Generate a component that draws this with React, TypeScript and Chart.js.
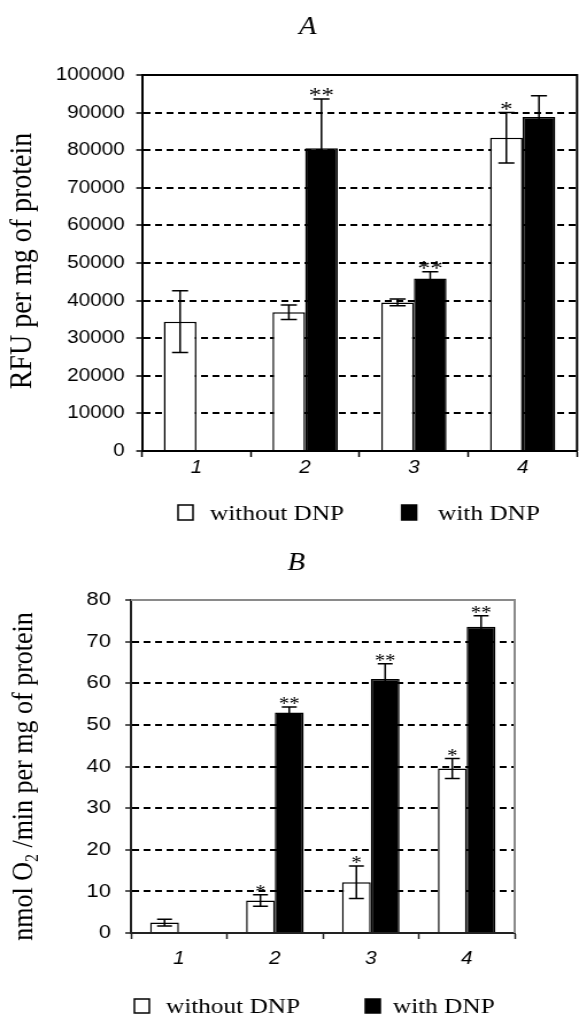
import React, { useEffect, useRef } from "react";
import { Chart, registerables } from "chart.js";

Chart.register(...registerables);

// ---------- data ----------
const categories = ["1", "2", "3", "4"];
const seriesLabels = ["without DNP", "with DNP"];

// Panel A: RFU per mg of protein
const rfuWithout: (number | null)[] = [34400, 36900, 39500, 83300];
const rfuWithoutErr: (number | null)[] = [8200, 1950, 900, 6700];
const rfuWith: (number | null)[] = [null, 80500, 45900, 88800];
const rfuWithErr: (number | null)[] = [null, 13100, 1800, 5700];
const rfuWithoutMarks = ["", "", "", "*"];
const rfuWithMarks = ["", "**", "**", ""];
const rfuMax = 100000;
const rfuStep = 10000;

// Panel B: nmol O2/min per mg of protein
const o2Without: (number | null)[] = [2.5, 7.8, 12.2, 39.5];
const o2WithoutErr: (number | null)[] = [0.8, 1.4, 3.9, 2.4];
const o2With: (number | null)[] = [null, 53, 61, 73.6];
const o2WithErr: (number | null)[] = [null, 1.3, 3.7, 2.6];
const o2WithoutMarks = ["", "*", "*", "*"];
const o2WithMarks = ["", "**", "**", "**"];
const o2Max = 80;
const o2Step = 10;

// ---------- layout / style ----------
const SANS = '"Liberation Sans", Arial, sans-serif';
const SERIF = '"Liberation Serif", "Times New Roman", serif';
const CANVAS_W = 504;
const STRETCH = 579 / CANVAS_W;

type Panel = {
  top: number;
  height: number;
  title: string;
  titleX: number;
  titleY: number;
  yTitle: { parts: { t: string; sub?: boolean }[]; x: number; y: number; size: number };
  values: (number | null)[][];
  errors: (number | null)[][];
  marks: string[][];
  max: number;
  step: number;
  area: { left: number; right: number; top: number; bottom: number };
  xScaleH: number;
  xPad: number;
  yPad: number;
  yFont: number;
  starSize: number;
  starOffset: number;
  cap: number;
  frameColor: string;
  axisColor: string;
  legend: { boxX: number; textX: number }[];
  legendBoxY: number;
  legendBoxH: number;
  legendBaseline: number;
};

const panelA: Panel = {
  top: 0,
  height: 535,
  title: "A",
  titleX: 268,
  titleY: 34,
  yTitle: { parts: [{ t: "RFU per mg of protein" }], x: 20, y: 261, size: 28 },
  values: [rfuWithout, rfuWith],
  errors: [rfuWithoutErr, rfuWithErr],
  marks: [rfuWithoutMarks, rfuWithMarks],
  max: rfuMax,
  step: rfuStep,
  area: { left: 123.6, right: 502.3, top: 75, bottom: 451 },
  xScaleH: 30,
  xPad: 0,
  yPad: 10,
  yFont: 18,
  starSize: 22,
  starOffset: 3,
  cap: 7,
  frameColor: "#000",
  axisColor: "#000",
  legend: [
    { boxX: 155, textX: 182.8 },
    { boxX: 349.6, textX: 381.3 },
  ],
  legendBoxY: 505,
  legendBoxH: 15,
  legendBaseline: 520,
};

const panelB: Panel = {
  top: 535,
  height: 481,
  title: "B",
  titleX: 258,
  titleY: 35,
  yTitle: {
    parts: [{ t: "nmol O" }, { t: "2", sub: true }, { t: " /min per mg of protein" }],
    x: 21,
    y: 241.5,
    size: 26,
  },
  values: [o2Without, o2With],
  errors: [o2WithoutErr, o2WithErr],
  marks: [o2WithoutMarks, o2WithMarks],
  max: o2Max,
  step: o2Step,
  area: { left: 114, right: 448, top: 65, bottom: 398 },
  xScaleH: 40,
  xPad: 9,
  yPad: 12.5,
  yFont: 19,
  starSize: 18,
  starOffset: 3,
  cap: 6.5,
  frameColor: "#8a8a8a",
  axisColor: "#222",
  legend: [
    { boxX: 117, textX: 144.5 },
    { boxX: 318, textX: 342 },
  ],
  legendBoxY: 464,
  legendBoxH: 14,
  legendBaseline: 478,
};

function buildConfig(p: Panel): any {
  const decor = {
    id: "decor",
    afterDatasetsDraw(chart: any) {
      const ctx = chart.ctx;
      const ys = chart.scales.y;
      chart.data.datasets.forEach((ds: any, di: number) => {
        const meta = chart.getDatasetMeta(di);
        meta.data.forEach((el: any, i: number) => {
          const v = ds.data[i];
          if (v == null) return;
          const e = p.errors[di][i] ?? 0;
          const yt = ys.getPixelForValue(v + e);
          const yb = ys.getPixelForValue(v - e);
          ctx.save();
          ctx.strokeStyle = "#000";
          ctx.lineWidth = 1.5;
          ctx.beginPath();
          ctx.moveTo(el.x, yt);
          ctx.lineTo(el.x, yb);
          ctx.moveTo(el.x - p.cap, yt);
          ctx.lineTo(el.x + p.cap, yt);
          ctx.moveTo(el.x - p.cap, yb);
          ctx.lineTo(el.x + p.cap, yb);
          ctx.stroke();
          const m = p.marks[di][i];
          if (m) {
            ctx.fillStyle = "#000";
            ctx.font = `${p.starSize}px ${SERIF}`;
            ctx.textAlign = "center";
            ctx.textBaseline = "alphabetic";
            ctx.fillText(m, el.x, yt + p.starOffset);
          }
          ctx.restore();
        });
      });
    },
    afterDraw(chart: any) {
      const ctx = chart.ctx;
      const a = chart.chartArea;
      ctx.save();
      // frame top & right
      ctx.strokeStyle = p.frameColor;
      ctx.lineWidth = 2;
      ctx.beginPath();
      ctx.moveTo(a.left, a.top);
      ctx.lineTo(a.right, a.top);
      ctx.lineTo(a.right, a.bottom);
      ctx.stroke();

      // panel title
      ctx.fillStyle = "#000";
      ctx.font = `italic 25px ${SERIF}`;
      ctx.textAlign = "center";
      ctx.textBaseline = "alphabetic";
      ctx.fillText(p.title, p.titleX, p.titleY);

      // y axis title (rotated)
      ctx.save();
      ctx.translate(p.yTitle.x, p.yTitle.y);
      ctx.rotate(-Math.PI / 2);
      ctx.textBaseline = "middle";
      ctx.textAlign = "left";
      const big = `${p.yTitle.size}px ${SERIF}`;
      const small = `${Math.round(p.yTitle.size * 0.6)}px ${SERIF}`;
      let total = 0;
      p.yTitle.parts.forEach((pt) => {
        ctx.font = pt.sub ? small : big;
        total += ctx.measureText(pt.t).width;
      });
      let cx = -total / 2;
      p.yTitle.parts.forEach((pt) => {
        ctx.font = pt.sub ? small : big;
        ctx.fillText(pt.t, cx, pt.sub ? p.yTitle.size * 0.3 : 0);
        cx += ctx.measureText(pt.t).width;
      });
      ctx.restore();

      // legend
      ctx.font = `22px ${SERIF}`;
      ctx.textAlign = "left";
      ctx.textBaseline = "alphabetic";
      chart.data.datasets.forEach((ds: any, i: number) => {
        const it = p.legend[i];
        ctx.fillStyle = ds.backgroundColor;
        ctx.fillRect(it.boxX, p.legendBoxY, 13, p.legendBoxH);
        ctx.strokeStyle = "#000";
        ctx.lineWidth = 1.5;
        ctx.strokeRect(it.boxX, p.legendBoxY, 13, p.legendBoxH);
        ctx.fillStyle = "#000";
        ctx.fillText(ds.label, it.textX, p.legendBaseline);
      });
      ctx.restore();
    },
  };

  return {
    type: "bar",
    data: {
      labels: categories,
      datasets: [
        {
          label: seriesLabels[0],
          data: p.values[0],
          backgroundColor: "#ffffff",
          borderColor: "#000000",
          borderWidth: 1.5,
          categoryPercentage: 0.6,
          barPercentage: 1.0,
        },
        {
          label: seriesLabels[1],
          data: p.values[1],
          backgroundColor: "#000000",
          borderColor: "#000000",
          borderWidth: 1.5,
          categoryPercentage: 0.6,
          barPercentage: 1.0,
        },
      ],
    },
    options: {
      responsive: false,
      animation: false,
      devicePixelRatio: 1,
      layout: {
        padding: {
          left: 0,
          right: CANVAS_W - p.area.right,
          top: p.area.top,
          bottom: p.height - p.area.bottom - p.xScaleH,
        },
      },
      plugins: {
        legend: { display: false },
        title: { display: false },
        tooltip: { enabled: false },
      },
      scales: {
        x: {
          afterFit: (s: any) => {
            s.height = p.xScaleH;
          },
          grid: {
            drawOnChartArea: false,
            drawTicks: true,
            tickLength: 6,
            tickColor: p.axisColor,
            tickWidth: 1.5,
            offset: true,
          },
          border: { display: true, color: p.axisColor, width: 2 },
          ticks: {
            color: "#000",
            padding: p.xPad,
            font: { family: SANS, size: 18, style: "italic" },
          },
        },
        y: {
          min: 0,
          max: p.max,
          afterFit: (s: any) => {
            s.width = p.area.left;
          },
          ticks: {
            stepSize: p.step,
            color: "#000",
            padding: p.yPad,
            font: { family: SANS, size: p.yFont },
            callback: (v: any) => String(v),
          },
          grid: {
            color: (c: any) =>
              c.tick && (c.tick.value === p.max || c.tick.value === 0) ? "rgba(0,0,0,0)" : "#000",
            lineWidth: 2,
            tickLength: 5,
            tickColor: p.axisColor,
            tickWidth: 1.5,
          },
          border: { display: true, color: p.axisColor, width: 2, dash: [6, 4] },
        },
      },
    },
    plugins: [decor],
  };
}

function ChartPanel({ p }: { p: Panel }) {
  const ref = useRef<HTMLCanvasElement | null>(null);
  useEffect(() => {
    if (!ref.current) return;
    const chart = new Chart(ref.current, buildConfig(p));
    return () => chart.destroy();
  }, [p]);
  return (
    <div
      style={{
        position: "absolute",
        left: 0,
        top: p.top,
        width: CANVAS_W,
        height: p.height,
        transform: `scaleX(${STRETCH})`,
        transformOrigin: "0 0",
      }}
    >
      <canvas ref={ref} width={CANVAS_W} height={p.height} />
    </div>
  );
}

export default function App() {
  return (
    <div
      style={{
        position: "absolute",
        left: 0,
        top: 0,
        width: 579,
        height: 1016,
        background: "#fff",
        overflow: "hidden",
      }}
    >
      <ChartPanel p={panelA} />
      <ChartPanel p={panelB} />
    </div>
  );
}
